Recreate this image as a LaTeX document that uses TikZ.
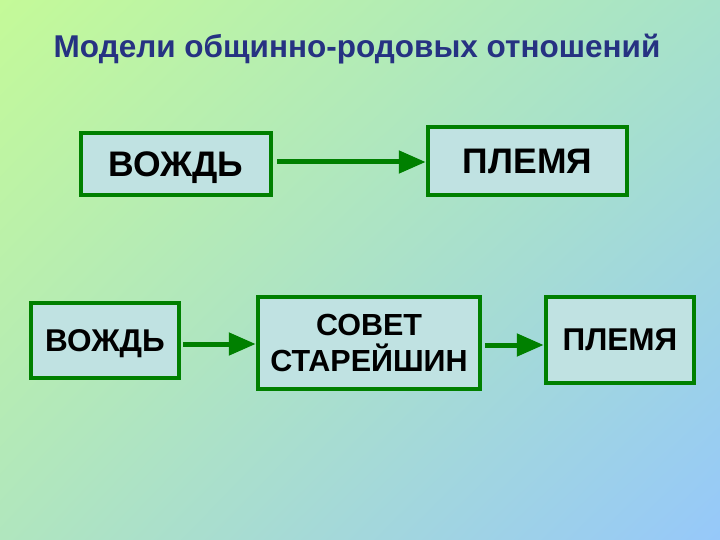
\documentclass[tikz,border=0pt]{standalone}
\usepackage{fontspec}
\setmainfont{Liberation Sans}
\usetikzlibrary{arrows.meta,shadings}
\definecolor{bgTL}{RGB}{196,250,152}
\definecolor{bgTR}{RGB}{166,226,202}
\definecolor{bgBL}{RGB}{176,230,190}
\definecolor{bgBR}{RGB}{150,200,250}
\definecolor{boxfill}{RGB}{192,226,226}
\definecolor{boxline}{RGB}{0,128,0}
\definecolor{titlecol}{RGB}{38,50,130}
\tikzset{
  box/.style={draw=boxline, line width=4.5pt, fill=boxfill, inner sep=0pt, align=center, font=\bfseries\fontsize{35.5}{40}\selectfont},
  oneline/.style={text depth=0pt},
  conn/.style={draw=boxline, line width=5pt, -{Triangle[length=27pt,width=22pt]}}
}
\begin{document}
\begin{tikzpicture}[x=1pt,y=-1pt]
\shade[upper left=bgTL, upper right=bgTR, lower left=bgBL, lower right=bgBR] (0,0) rectangle (720,540);
\useasboundingbox (0,0) rectangle (720,540);
\node[font=\bfseries\fontsize{31.5}{36}\selectfont, text=titlecol, anchor=base, inner sep=0pt] (title) at (357,58) {Модели общинно-родовых отношений};
\node[box, oneline, minimum width=190pt, minimum height=62pt] (v1) at (176,164) {ВОЖДЬ};
\node[box, oneline, minimum width=199pt, minimum height=68pt] (p1) at (527.5,161) {ПЛЕМЯ};
\node[box, oneline, minimum width=148pt, minimum height=75pt, font=\bfseries\fontsize{31.5}{36}\selectfont] (v2) at (105,340.5) {ВОЖДЬ};
\node[box, minimum width=222pt, minimum height=92pt, font=\bfseries\fontsize{30.5}{36}\selectfont] (s) at (369,343) {СОВЕТ\\СТАРЕЙШИН};
\node[box, oneline, minimum width=148pt, minimum height=86pt, font=\bfseries\fontsize{31.5}{36}\selectfont] (p2) at (620,340) {ПЛЕМЯ};
\draw[conn] (v1.east |- 0,162) ++(4,0) coordinate (a1) -- (a1 -| p1.west);
\draw[conn] (v2.east |- 0,344) ++(2,0) coordinate (a2) -- (a2 -| s.west);
\draw[conn] (s.east |- 0,345) ++(3,0) coordinate (a3) -- (a3 -| p2.west);
\end{tikzpicture}
\end{document}
